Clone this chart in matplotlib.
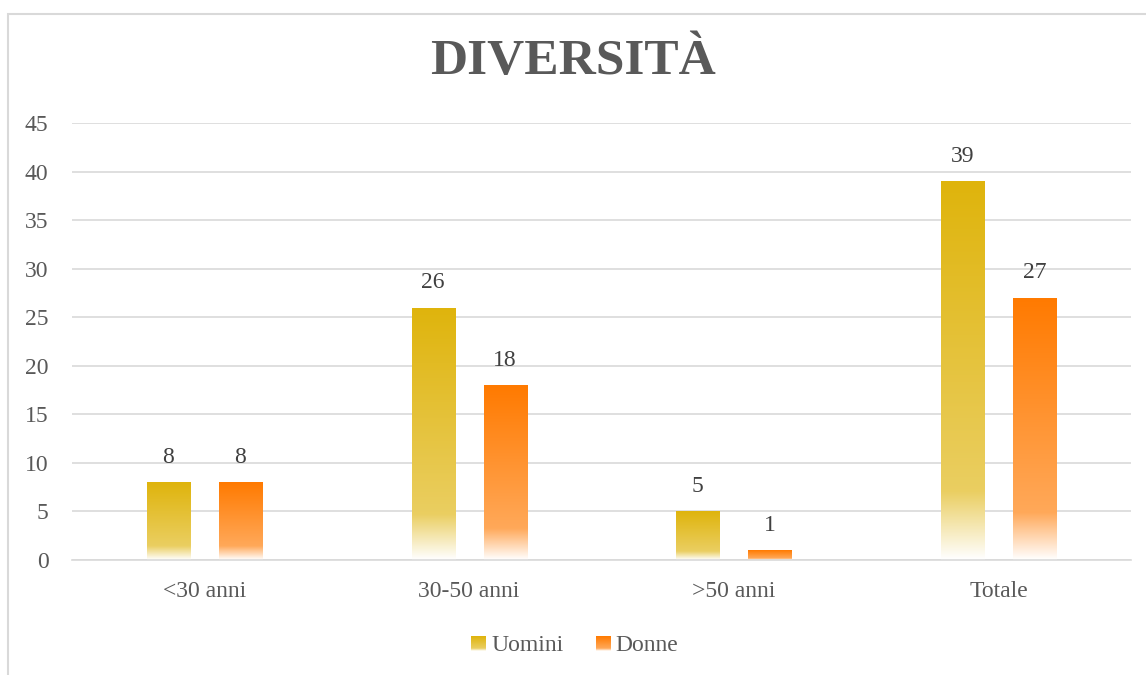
import matplotlib
matplotlib.use("Agg")
import matplotlib.pyplot as plt
import numpy as np
from matplotlib.colors import to_rgb, LinearSegmentedColormap
from matplotlib.patches import Patch, Rectangle
from matplotlib.legend_handler import HandlerPatch

categories = ["<30 anni", "30-50 anni", ">50 anni", "Totale"]
uomini = [8, 26, 5, 39]
donne = [8, 18, 1, 27]
series_names = ["Uomini", "Donne"]
series_colors = ["#DFB40C", "#FF7A00"]

plt.rcParams['font.family'] = ['Liberation Serif', 'DejaVu Serif']
text_col = "#595959"

W, H = 1146, 675
fig = plt.figure(figsize=(W / 100, H / 100), dpi=100)
ax = fig.add_axes([72 / W, 1 - 560 / H, (1131 - 72) / W, (560 - 123) / H])


def grad_cmap(c):
    r, g, b = to_rgb(c)
    light = (r + (1 - r) * 0.35, g + (1 - g) * 0.35, b + (1 - b) * 0.35)
    # bottom (0) -> top (1)
    return LinearSegmentedColormap.from_list(
        "g", [(0.0, (1, 1, 1)), (0.18, light), (1.0, (r, g, b))])


def grad_bar(x, h, width, color):
    bar = ax.bar(x, h, width, color="none", edgecolor="none")[0]
    img = ax.imshow(np.linspace(0, 1, 256).reshape(-1, 1), cmap=grad_cmap(color),
                    origin="lower", aspect="auto",
                    extent=[x - width / 2, x + width / 2, 0, h], zorder=2)
    img.set_clip_path(bar)
    return bar


x = np.arange(len(categories))
width = 0.163
offset = 0.136
for vals, col, sign in [(uomini, series_colors[0], -1), (donne, series_colors[1], 1)]:
    for xi, v in zip(x, vals):
        grad_bar(xi + sign * offset, v, width, col)
        ax.text(xi + sign * offset, v + 1.5, str(v), ha="center", va="bottom",
                fontsize=17, color="#404040")

ax.set_xlim(-0.5, len(categories) - 0.5)
ax.set_ylim(0, 45)
ax.set_yticks(range(0, 46, 5))
ax.set_xticks(x)
ax.set_xticklabels(categories)
ax.tick_params(axis="both", length=0, labelsize=17, colors=text_col)
ax.tick_params(axis="y", pad=17)
ax.tick_params(axis="x", pad=15)
ax.grid(axis="y", color="#D9D9D9", linewidth=1.2)
ax.set_axisbelow(True)
for s in ["top", "right", "left"]:
    ax.spines[s].set_visible(False)
ax.spines["bottom"].set_color("#D9D9D9")
ax.spines["bottom"].set_linewidth(1.2)

fig.text(0.5, 1 - 62 / H, "DIVERSITÀ", ha="center", va="center", fontsize=37,
         fontweight="bold", color=text_col)


class HandlerGrad(HandlerPatch):
    def create_artists(self, legend, orig_handle, xdescent, ydescent, width, height, fontsize, trans):
        w = height * 0.85
        img = matplotlib.image.BboxImage(
            matplotlib.transforms.TransformedBbox(
                matplotlib.transforms.Bbox.from_bounds(-xdescent + width - w, -ydescent, w, w * 1.05), trans),
            cmap=grad_cmap(orig_handle.get_facecolor()), origin="lower")
        img.set_data(np.linspace(0, 1, 64).reshape(-1, 1))
        return [img]


handles = [Patch(facecolor=c, label=n) for c, n in zip(series_colors, series_names)]
fig.legend(handles=handles, loc="center", bbox_to_anchor=(0.5, 1 - 645 / H), ncol=2,
           frameon=False, fontsize=17, labelcolor=text_col, handlelength=0.75,
           handletextpad=0.25, columnspacing=1.2,
           handler_map={Patch: HandlerGrad()})

fig.add_artist(Rectangle((7.5 / W, -0.1), 1.2, 1.1 - 13.5 / H, transform=fig.transFigure,
                         fill=False, edgecolor="#D9D9D9", linewidth=1.5))

fig.savefig("out.png", dpi=100)
